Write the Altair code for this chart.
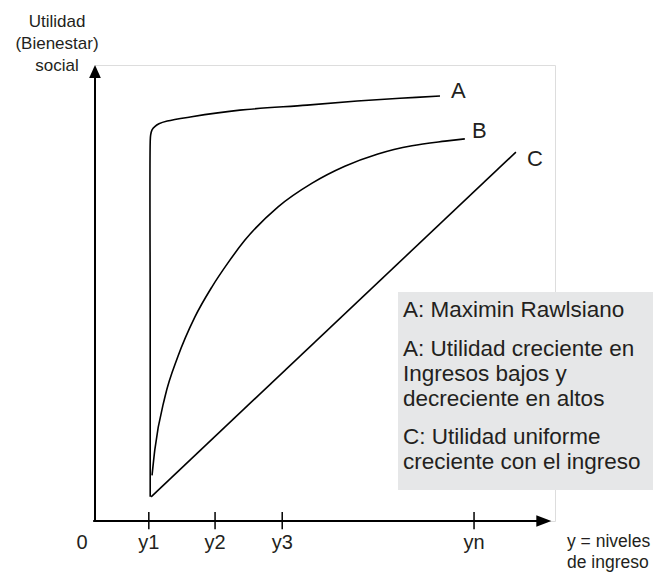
import altair as alt
import pandas as pd

# ---- data (x: income units, y: utility units; both 0..10) ----
tick_pos = [1.17, 2.61, 4.07, 8.24]
tick_labels = ["y1", "y2", "y3", "yn"]

curve_a_x = [1.20, 1.20, 1.20, 1.21, 1.24, 1.30, 1.39, 1.57, 2.07, 3.15, 4.61, 5.70, 6.63, 7.50]
curve_a_y = [0.53, 4.41, 8.30, 8.47, 8.58, 8.65, 8.71, 8.77, 8.86, 9.01, 9.12, 9.21, 9.27, 9.32]

curve_b_x = [1.24, 1.30, 1.52, 1.80, 2.17, 2.54, 2.89, 3.26, 3.98, 4.72, 5.43, 6.15, 6.89, 7.61, 8.04]
curve_b_y = [1.00, 1.56, 2.72, 3.60, 4.47, 5.13, 5.66, 6.16, 6.89, 7.41, 7.78, 8.05, 8.23, 8.33, 8.38]

curve_c_x = [1.22, 9.15]
curve_c_y = [0.53, 8.09]

curve_names = ["A", "B", "C"]

y_title = ["Utilidad", "(Bienestar)", "social"]
x_title = ["y = niveles", "de ingreso"]
note_1 = ["A: Maximin Rawlsiano"]
note_2 = ["A: Utilidad creciente en", "Ingresos bajos y", "decreciente en altos"]
note_3 = ["C: Utilidad uniforme", "creciente con el ingreso"]

# ---- build ----
W, H = 460, 456
FONT = "Liberation Sans"
TXT = "#231f20"
xs = alt.Scale(domain=[0, 10], nice=False, zero=False)
ys = alt.Scale(domain=[0, 10], nice=False, zero=False)


def curve(xv, yv, interp):
    df = pd.DataFrame({"x": xv, "y": yv, "i": list(range(len(xv)))})
    return alt.Chart(df).mark_line(color="black", strokeWidth=1.6, interpolate=interp).encode(
        x=alt.X("x:Q", scale=xs, axis=None),
        y=alt.Y("y:Q", scale=ys, axis=None),
        order="i:Q",
    )


base_df = pd.DataFrame({"x": [0.0], "y": [0.0]})

# legend box
box = alt.Chart(base_df).mark_rect(color="#e6e7e8").encode(
    x=alt.value(303), x2=alt.value(563), y=alt.value(227), y2=alt.value(425)
)

# axes
x_axis = alt.Chart(pd.DataFrame({"x": [-0.04], "x2": [9.75], "y": [0.0]})).mark_rule(
    color="black", strokeWidth=2
).encode(x=alt.X("x:Q", scale=xs, axis=None), x2="x2:Q", y=alt.Y("y:Q", scale=ys, axis=None))

y_axis = alt.Chart(pd.DataFrame({"x": [0.0], "y": [0.0], "y2": [9.75]})).mark_rule(
    color="black", strokeWidth=2
).encode(x=alt.X("x:Q", scale=xs, axis=None), y=alt.Y("y:Q", scale=ys, axis=None), y2="y2:Q")

arrow_up = alt.Chart(pd.DataFrame({"x": [0.0], "y": [10.0]})).mark_point(
    shape="M0,0L0.9,2L-0.9,2Z", filled=True, size=169, opacity=1, color="black", strokeWidth=0
).encode(x=alt.X("x:Q", scale=xs, axis=None), y=alt.Y("y:Q", scale=ys, axis=None))

arrow_right = alt.Chart(pd.DataFrame({"x": [9.92], "y": [0.0]})).mark_point(
    shape="M0,0L-2,-0.78L-2,0.78Z", filled=True, size=225, opacity=1, color="black", strokeWidth=0
).encode(x=alt.X("x:Q", scale=xs, axis=None), y=alt.Y("y:Q", scale=ys, axis=None))

tick_df = pd.DataFrame({"x": tick_pos, "lab": tick_labels, "y": [0.2] * 4, "y2": [-0.18] * 4})
ticks = alt.Chart(tick_df).mark_rule(color="black", strokeWidth=1.5).encode(
    x=alt.X("x:Q", scale=xs, axis=None), y=alt.Y("y:Q", scale=ys, axis=None), y2="y2:Q"
)
tick_text = alt.Chart(tick_df).mark_text(
    font=FONT, fontSize=20, color=TXT, baseline="alphabetic", align="center"
).encode(x=alt.X("x:Q", scale=xs, axis=None), y=alt.value(484), text="lab:N")

zero_text = alt.Chart(base_df).mark_text(
    text="0", font=FONT, fontSize=20, color=TXT, baseline="alphabetic", align="center"
).encode(x=alt.value(-13), y=alt.value(484))

ytitle = alt.Chart(base_df).mark_text(
    text=y_title, font=FONT, fontSize=17, lineHeight=22, color=TXT, baseline="alphabetic", align="center"
).encode(x=alt.value(-38), y=alt.value(-38))

xtitle = alt.Chart(base_df).mark_text(
    text=x_title, font=FONT, fontSize=17.5, lineHeight=21, color=TXT, baseline="alphabetic", align="left"
).encode(x=alt.value(472), y=alt.value(482))

name_pos = [(356, 33), (377, 73), (432, 101)]
names = []
for n, (px, py) in zip(curve_names, name_pos):
    names.append(
        alt.Chart(base_df).mark_text(
            text=n, font=FONT, fontSize=22, color=TXT, baseline="alphabetic", align="left"
        ).encode(x=alt.value(px), y=alt.value(py))
    )

notes = []
for lines, py in [(note_1, 252), (note_2, 291), (note_3, 379)]:
    notes.append(
        alt.Chart(base_df).mark_text(
            text=lines, font=FONT, fontSize=22.5, lineHeight=25, color=TXT, baseline="alphabetic", align="left"
        ).encode(x=alt.value(308), y=alt.value(py))
    )

chart = alt.layer(
    box,
    curve(curve_c_x, curve_c_y, "linear"),
    curve(curve_b_x, curve_b_y, "monotone"),
    curve(curve_a_x, curve_a_y, "catmull-rom"),
    x_axis, y_axis, arrow_up, arrow_right, ticks, tick_text, zero_text,
    ytitle, xtitle, *names, *notes,
).properties(
    width=W, height=H,
    autosize=alt.AutoSizeParams(type="none"),
    padding={"left": 87, "top": 57, "right": 98, "bottom": 52},
).configure_view(stroke=None).configure(background="white")

chart.save("out.html", embed_options={"renderer": "svg", "actions": False})
